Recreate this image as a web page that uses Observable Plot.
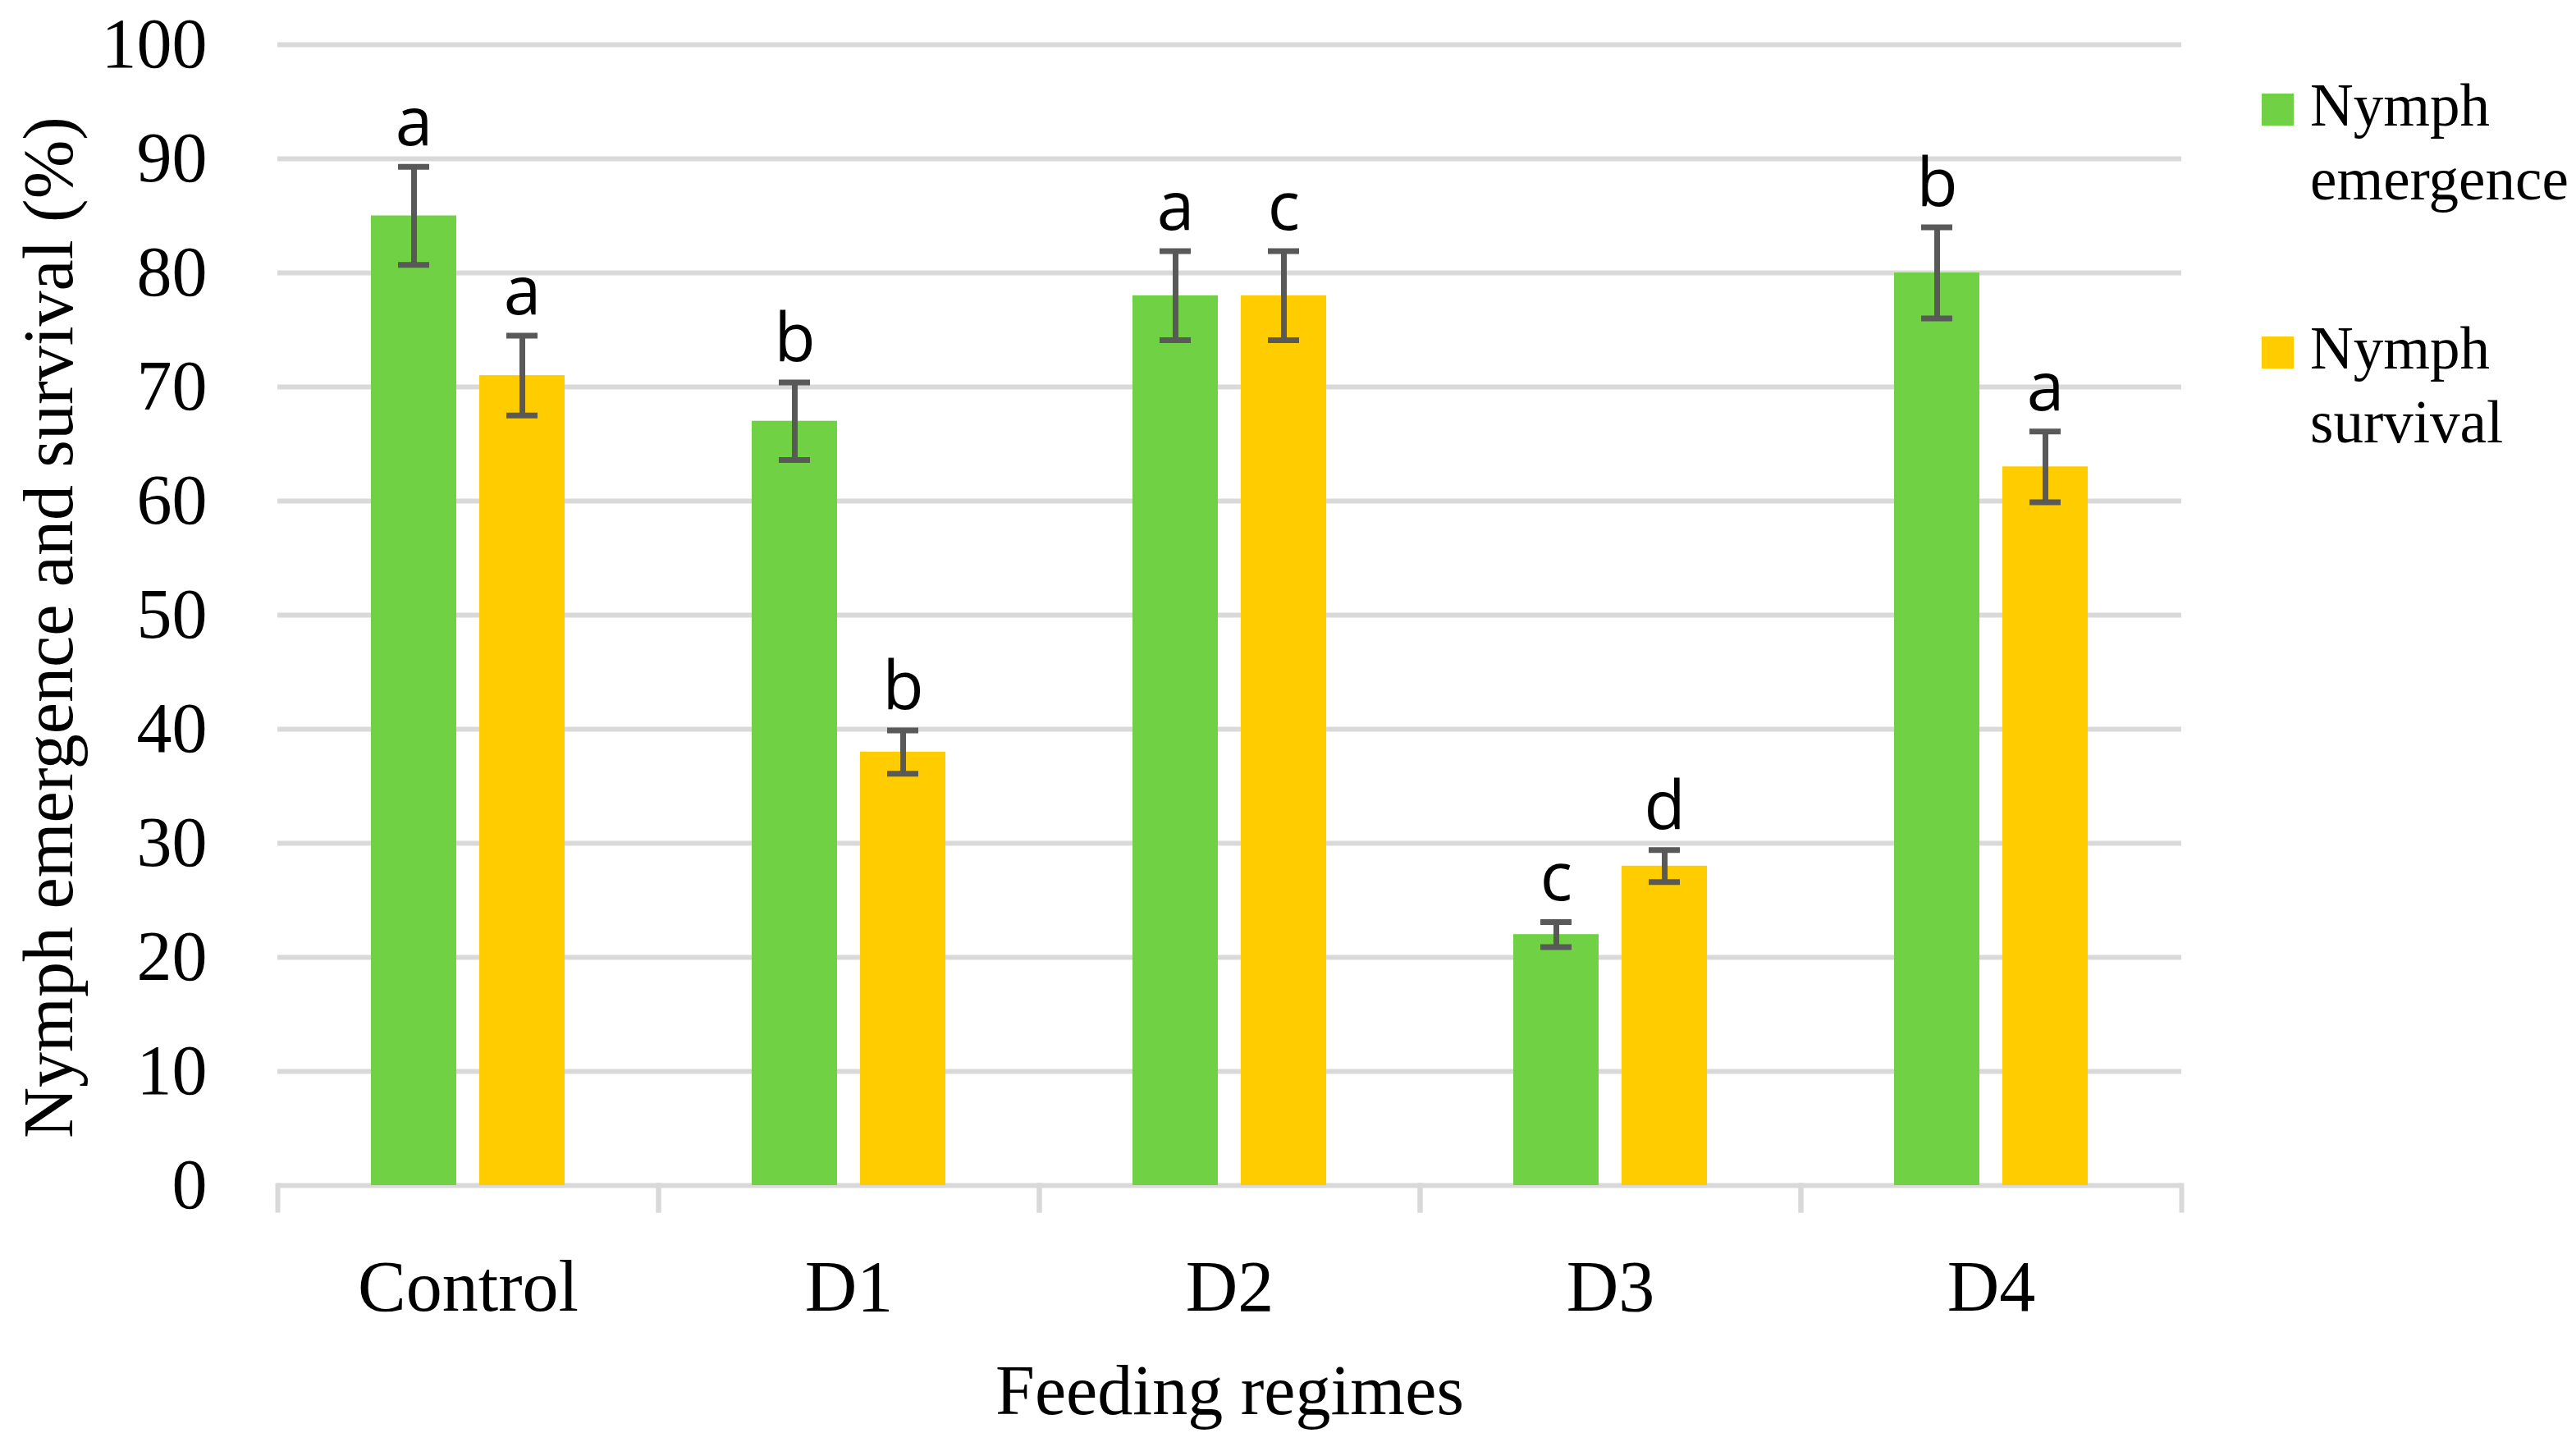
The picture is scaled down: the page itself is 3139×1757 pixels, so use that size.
<!DOCTYPE html>
<html><head><meta charset="utf-8">
<script src="https://cdn.jsdelivr.net/npm/d3@7"></script>
<script src="https://cdn.jsdelivr.net/npm/@observablehq/plot@0.6"></script>
<style>
body{margin:0;background:#fff;}
#wrap{position:relative;width:3139px;height:1757px;background:#fff;}
.leg{position:absolute;left:2756px;font-family:"Liberation Serif",serif;font-size:73px;line-height:90px;color:#000;}
.sw{position:absolute;left:0;width:39px;height:39px;}
.lt{position:absolute;left:59px;top:0;white-space:nowrap;}
</style></head><body><div id="wrap"></div>
<script>
const categories = ["Control", "D1", "D2", "D3", "D4"];
const series = ["Nymph emergence", "Nymph survival"];
const legendLines = [["Nymph", "emergence"], ["Nymph", "survival"]];
const emergence = [85, 67, 78, 22, 80];
const emergenceErr = [4.3, 3.4, 3.9, 1.1, 4.0];
const survival = [71, 38, 78, 28, 63];
const survivalErr = [3.5, 1.9, 3.9, 1.4, 3.1];
const emergenceLetters = ["a", "b", "a", "c", "b"];
const survivalLetters = ["a", "b", "c", "d", "a"];
const yTicks = [0, 10, 20, 30, 40, 50, 60, 70, 80, 90, 100];
const colors = ["#6fd143", "#ffcc00"];

const rows = categories.flatMap((c, i) => [
  {cat: c, series: series[0], value: emergence[i], err: emergenceErr[i], letter: emergenceLetters[i]},
  {cat: c, series: series[1], value: survival[i], err: survivalErr[i], letter: survivalLetters[i]}
]);

const grid = "#d9d9d9";
const errColor = "#595959";

const plot = Plot.plot({
  width: 3139, height: 1757,
  marginLeft: 336, marginRight: 479, marginTop: 54, marginBottom: 283,
  fx: {domain: categories, padding: 0},
  x: {domain: series, paddingInner: 0.21, paddingOuter: 0.86, axis: null},
  y: {domain: [0, 100], insetBottom: 30},
  color: {domain: series, range: colors},
  style: {fontFamily: "Liberation Serif", background: "white", color: "black"},
  marks: [
    Plot.ruleY(yTicks, {stroke: grid, strokeWidth: 6}),
    Plot.frame({anchor: "left", stroke: grid, strokeWidth: 6, insetTop: 1390}),
    Plot.frame({anchor: "right", stroke: grid, strokeWidth: 6, insetTop: 1390}),
    Plot.barY(rows, {fx: "cat", x: "series", y: "value", fill: "series"}),
    Plot.ruleX(rows, {fx: "cat", x: "series", y1: d => d.value - d.err, y2: d => d.value + d.err, stroke: errColor, strokeWidth: 7}),
    Plot.tickY(rows, {fx: "cat", x: "series", y: d => d.value - d.err, stroke: errColor, strokeWidth: 7, insetLeft: 33, insetRight: 33}),
    Plot.tickY(rows, {fx: "cat", x: "series", y: d => d.value + d.err, stroke: errColor, strokeWidth: 7, insetLeft: 33, insetRight: 33}),
    Plot.text(rows, {fx: "cat", x: "series", y: d => d.value + d.err, text: "letter", lineAnchor: "bottom", dy: -26, fontSize: 82, fontFamily: "Open Sans", fill: "black"}),
    Plot.axisY({ticks: yTicks, tickSize: 0, tickPadding: 86, fontSize: 86, label: "Nymph emergence and survival (%)", labelAnchor: "center", labelOffset: 312, labelArrow: "none"}),
    Plot.axisFx({anchor: "bottom", tickSize: 0, tickPadding: 60, fontSize: 88, label: null}),
    Plot.axisFx({anchor: "bottom", tickSize: 0, text: null, fontSize: 86, label: "Feeding regimes", labelAnchor: "center", labelOffset: 248, labelArrow: "none"})
  ]
});

const wrap = document.getElementById("wrap");
wrap.appendChild(plot);

const legTops = [84, 380];
series.forEach((s, i) => {
  const d = document.createElement("div");
  d.className = "leg";
  d.style.top = legTops[i] + "px";
  const sw = document.createElement("div");
  sw.className = "sw";
  sw.style.background = colors[i];
  sw.style.top = "30px";
  const t = document.createElement("div");
  t.className = "lt";
  t.innerHTML = legendLines[i].join("<br>");
  d.appendChild(sw); d.appendChild(t);
  wrap.appendChild(d);
});
</script>
</body></html>
